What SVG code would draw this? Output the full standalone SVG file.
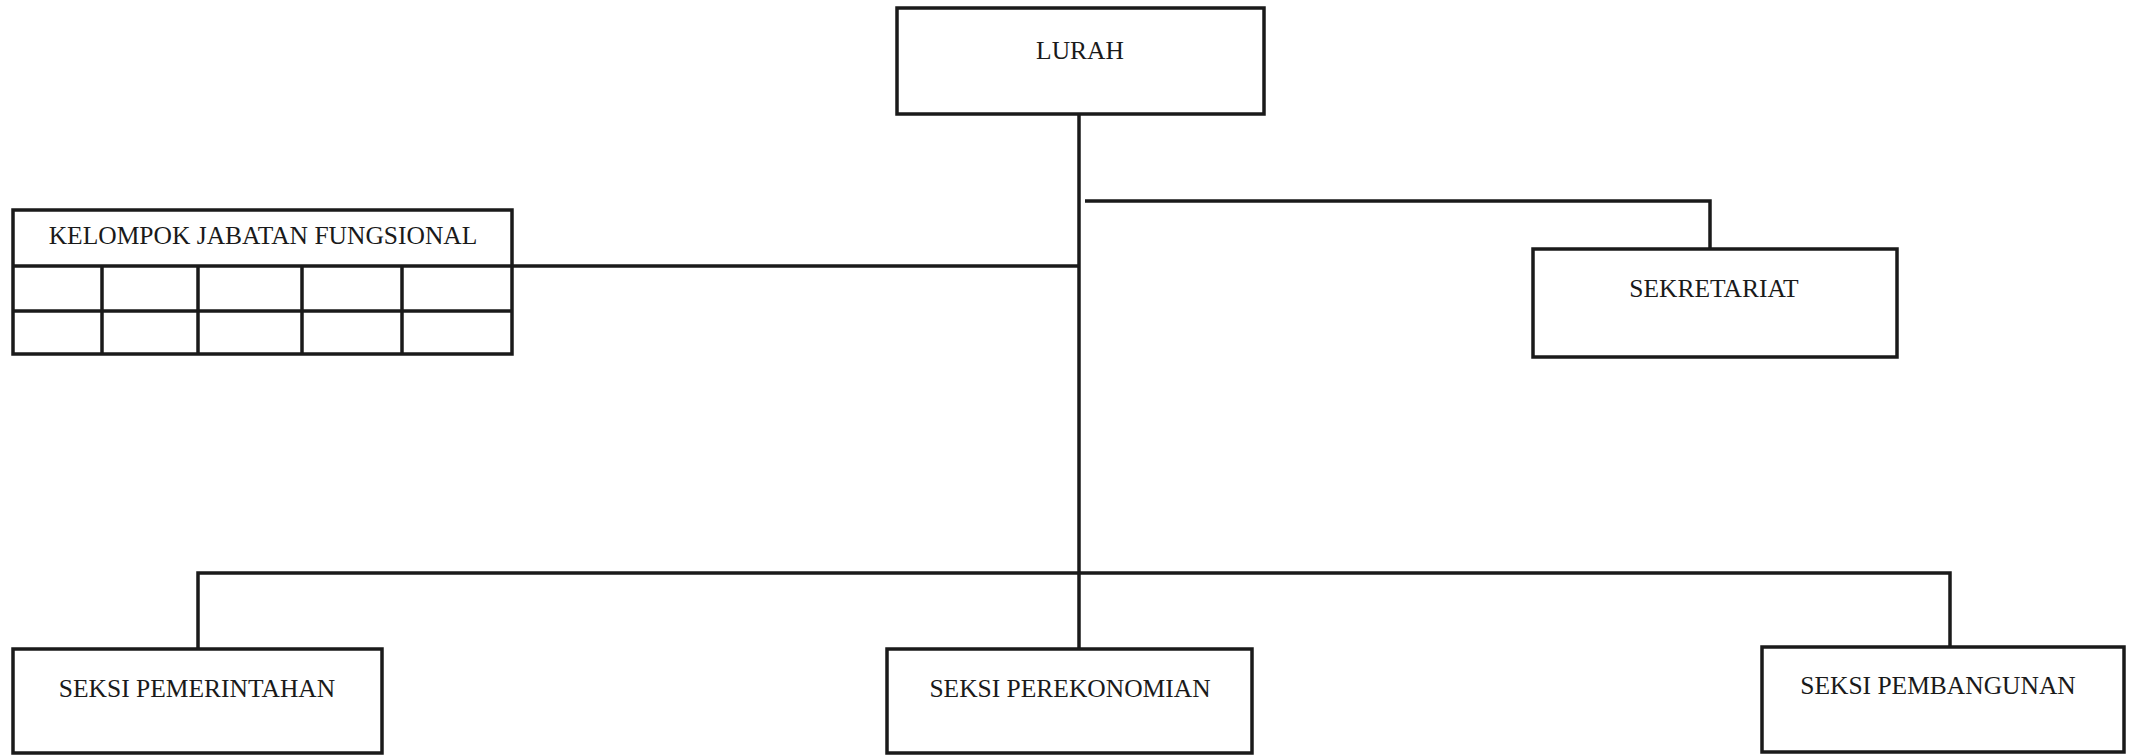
<svg xmlns="http://www.w3.org/2000/svg" width="2129" height="756" viewBox="0 0 2129 756">
<style>
.box{fill:#fff;stroke:#1a1a1a;stroke-width:3.5}
.ln{fill:none;stroke:#1a1a1a;stroke-width:3.5;stroke-linejoin:miter}
.t{font-family:"Liberation Serif",serif;font-size:25.5px;fill:#1a1a1a;text-anchor:middle}
</style>
<rect width="2129" height="756" fill="#fff"/>
<g id="connectors">
<line class="ln" x1="1079" y1="113" x2="1079" y2="649"/>
<polyline class="ln" points="1085,201 1710,201 1710,249"/>
<line class="ln" x1="512" y1="266" x2="1079" y2="266"/>
<polyline class="ln" points="198,649 198,573 1950,573 1950,647"/>
</g>
<g id="lurah">
<rect class="box" x="897" y="8" width="367" height="106"/>
<text class="t" x="1080" y="59">LURAH</text>
</g>
<g id="kelompok-jabatan-fungsional">
<rect class="box" x="13" y="210" width="499" height="144"/>
<line class="ln" x1="13" y1="266" x2="512" y2="266"/>
<line class="ln" x1="13" y1="311" x2="512" y2="311"/>
<line class="ln" x1="102" y1="266" x2="102" y2="354"/>
<line class="ln" x1="198" y1="266" x2="198" y2="354"/>
<line class="ln" x1="302" y1="266" x2="302" y2="354"/>
<line class="ln" x1="402" y1="266" x2="402" y2="354"/>
<text class="t" x="263" y="244">KELOMPOK JABATAN FUNGSIONAL</text>
</g>
<g id="sekretariat">
<rect class="box" x="1533" y="249" width="364" height="108"/>
<text class="t" x="1714" y="297">SEKRETARIAT</text>
</g>
<g id="seksi-pemerintahan">
<rect class="box" x="13" y="649" width="369" height="104"/>
<text class="t" x="197" y="697">SEKSI PEMERINTAHAN</text>
</g>
<g id="seksi-perekonomian">
<rect class="box" x="887" y="649" width="365" height="104"/>
<text class="t" x="1070" y="697">SEKSI PEREKONOMIAN</text>
</g>
<g id="seksi-pembangunan">
<rect class="box" x="1762" y="647" width="362" height="105"/>
<text class="t" x="1938" y="694">SEKSI PEMBANGUNAN</text>
</g>
</svg>
